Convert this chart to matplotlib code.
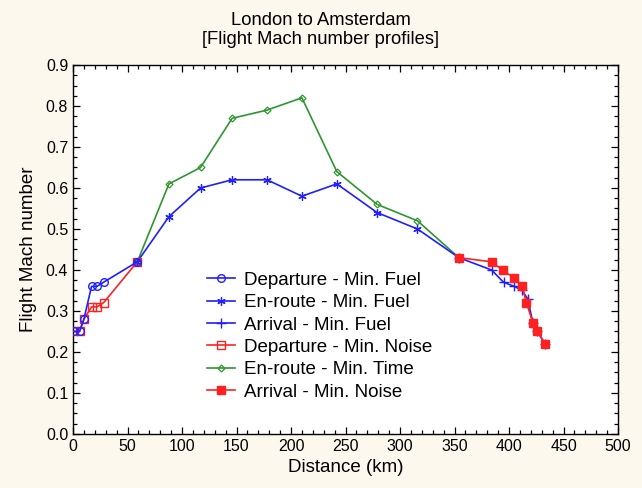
import matplotlib
matplotlib.use("Agg")
import matplotlib.pyplot as plt
from matplotlib.ticker import MultipleLocator

plt.rcParams["font.family"] = ["Liberation Sans", "DejaVu Sans"]

# departure leg (same distances for both objectives)
dep_km = [1, 6, 10, 17, 22, 28, 59]
dep_fuel = [0.25, 0.25, 0.28, 0.36, 0.36, 0.37, 0.42]
dep_noise = [0.25, 0.25, 0.28, 0.31, 0.31, 0.32, 0.42]

# en-route leg
enr_km = [59, 88, 117, 146, 178, 210, 242, 279, 316, 354]
enr_fuel = [0.42, 0.53, 0.60, 0.62, 0.62, 0.58, 0.61, 0.54, 0.50, 0.43]
enr_time = [0.42, 0.61, 0.65, 0.77, 0.79, 0.82, 0.64, 0.56, 0.52, 0.43]

# arrival leg
arr_fuel_km = [354, 384, 395, 405, 412, 417, 422, 426, 433]
arr_fuel = [0.43, 0.40, 0.37, 0.36, 0.35, 0.33, 0.27, 0.25, 0.22]
arr_noise_km = [354, 384, 394, 405, 412, 416, 422, 426, 433]
arr_noise = [0.43, 0.42, 0.40, 0.38, 0.36, 0.32, 0.27, 0.25, 0.22]

BLUE = "#1f1fff"
RED = "#ff2020"
GREEN = "#2e962e"

fig = plt.figure(figsize=(6.42, 4.88), dpi=100, facecolor="#fdf8ee")
ax = fig.add_axes([0.1137, 0.1107, 0.849, 0.7561])
ax.set_facecolor("white")

ax.plot(dep_km, dep_fuel, "-o", color=BLUE, lw=1.2, ms=5.5, mfc="none",
        mec=BLUE, mew=1.0, label="Departure - Min. Fuel", zorder=4)
ax.plot(enr_km, enr_fuel, "-", marker=(6, 2, 0), color=BLUE, lw=1.2, ms=6,
        mew=0.9, label="En-route - Min. Fuel", zorder=3)
ax.plot(arr_fuel_km, arr_fuel, "-+", color=BLUE, lw=1.2, ms=7, mew=1.0,
        label="Arrival - Min. Fuel", zorder=3)
ax.plot(dep_km, dep_noise, "-s", color=RED, lw=1.2, ms=6, mfc="none",
        mec=RED, mew=1.0, label="Departure - Min. Noise", zorder=3)
ax.plot(enr_km, enr_time, "-D", color=GREEN, lw=1.2, ms=3.5, mfc="none",
        mec=GREEN, mew=0.9, label="En-route - Min. Time", zorder=2)
ax.plot(arr_noise_km, arr_noise, "-s", color=RED, lw=1.2, ms=6,
        label="Arrival - Min. Noise", zorder=4)

ax.set_xlim(0, 500)
ax.set_ylim(0, 0.9)
ax.xaxis.set_major_locator(MultipleLocator(50))
ax.xaxis.set_minor_locator(MultipleLocator(10))
ax.yaxis.set_major_locator(MultipleLocator(0.1))
ax.yaxis.set_minor_locator(MultipleLocator(0.025))
ax.yaxis.set_major_formatter(plt.FuncFormatter(lambda v, p: f"{v:.1f}"))
ax.tick_params(which="both", direction="in", top=True, right=True,
               labelsize=11.5, width=0.9)
ax.tick_params(which="major", length=5)
ax.tick_params(which="minor", length=3)
for s in ax.spines.values():
    s.set_linewidth(1.0)

ax.set_xlabel("Distance (km)", fontsize=13.5, labelpad=4)
ax.set_ylabel("Flight Mach number", fontsize=13.5, labelpad=6)
fig.suptitle("London to Amsterdam\n[Flight Mach number profiles]",
             x=0.5, y=0.975, va="top", fontsize=13.2, linespacing=1.15)

ax.legend(loc="upper left", bbox_to_anchor=(0.245, 0.44), frameon=False,
          fontsize=13.5, handlelength=1.5, handletextpad=0.5,
          labelspacing=0.28, borderpad=0, borderaxespad=0)

fig.savefig("out.png", dpi=100, facecolor=fig.get_facecolor())
